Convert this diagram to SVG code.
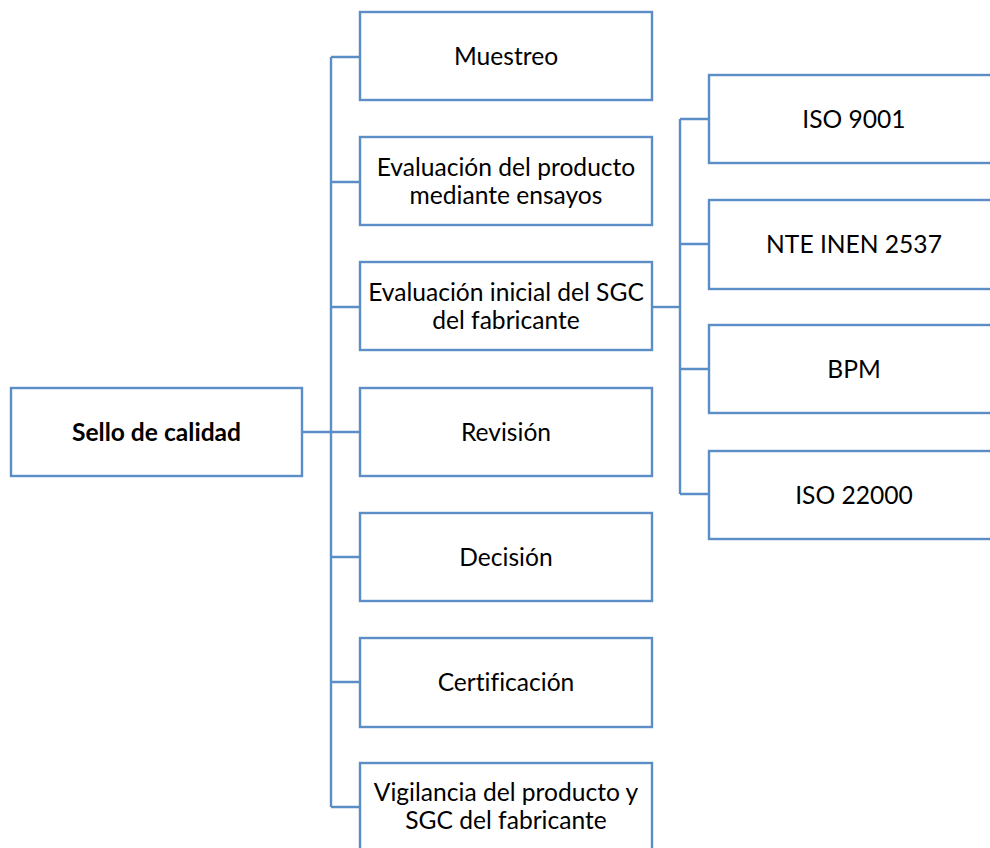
<svg xmlns="http://www.w3.org/2000/svg" width="990" height="848" viewBox="0 0 990 848">
  <style>
    .box { fill: #ffffff; stroke: #5b8ec6; stroke-width: 2.4; }
    .link { fill: none; stroke: #5b8ec6; stroke-width: 2.4; }
    .lbl { font-family: Lato, "Liberation Sans", sans-serif; font-size: 24.6px; fill: #000000; text-anchor: middle; font-variant-ligatures: none; }
    .bold { font-weight: bold; }
  </style>
  <rect width="990" height="848" fill="#ffffff"/>

  <!-- connectors -->
  <g id="connectors">
    <path class="link" d="M302,432 H360"/>
    <path class="link" d="M331,57 V807"/>
    <path class="link" d="M331,57 H360 M331,182 H360 M331,307 H360 M331,557 H360 M331,682 H360 M331,807 H360"/>
    <path class="link" d="M652,307 H680"/>
    <path class="link" d="M680,119 V494"/>
    <path class="link" d="M680,119 H709 M680,244 H709 M680,369 H709 M680,494 H709"/>
  </g>

  <!-- root -->
  <g id="sello">
    <rect class="box" x="11" y="388" width="291" height="88"/>
    <text class="lbl bold" x="156.5" y="441">Sello de calidad</text>
  </g>

  <!-- steps -->
  <g id="muestreo">
    <rect class="box" x="360" y="12" width="292" height="88"/>
    <text class="lbl" x="506" y="65">Muestreo</text>
  </g>
  <g id="evaluacion-producto">
    <rect class="box" x="360" y="137" width="292" height="88"/>
    <text class="lbl" x="506" y="176">Evaluación del producto</text>
    <text class="lbl" x="506" y="204">mediante ensayos</text>
  </g>
  <g id="evaluacion-sgc">
    <rect class="box" x="360" y="262" width="292" height="88"/>
    <text class="lbl" x="506" y="301">Evaluación inicial del SGC</text>
    <text class="lbl" x="506" y="329">del fabricante</text>
  </g>
  <g id="revision">
    <rect class="box" x="360" y="388" width="292" height="88"/>
    <text class="lbl" x="506" y="441">Revisión</text>
  </g>
  <g id="decision">
    <rect class="box" x="360" y="513" width="292" height="88"/>
    <text class="lbl" x="506" y="566">Decisión</text>
  </g>
  <g id="certificacion">
    <rect class="box" x="360" y="638" width="292" height="89"/>
    <text class="lbl" x="506" y="691">Certificación</text>
  </g>
  <g id="vigilancia">
    <rect class="box" x="360" y="763" width="292" height="88"/>
    <text class="lbl" x="506" y="801">Vigilancia del producto y</text>
    <text class="lbl" x="506" y="829">SGC del fabricante</text>
  </g>

  <!-- standards -->
  <g id="iso9001">
    <rect class="box" x="709" y="75" width="300" height="88"/>
    <text class="lbl" x="854" y="128">ISO 9001</text>
  </g>
  <g id="nte-inen">
    <rect class="box" x="709" y="200" width="300" height="89"/>
    <text class="lbl" x="854" y="253">NTE INEN 2537</text>
  </g>
  <g id="bpm">
    <rect class="box" x="709" y="325" width="300" height="88"/>
    <text class="lbl" x="854" y="378">BPM</text>
  </g>
  <g id="iso22000">
    <rect class="box" x="709" y="451" width="300" height="88"/>
    <text class="lbl" x="854" y="504">ISO 22000</text>
  </g>
</svg>
